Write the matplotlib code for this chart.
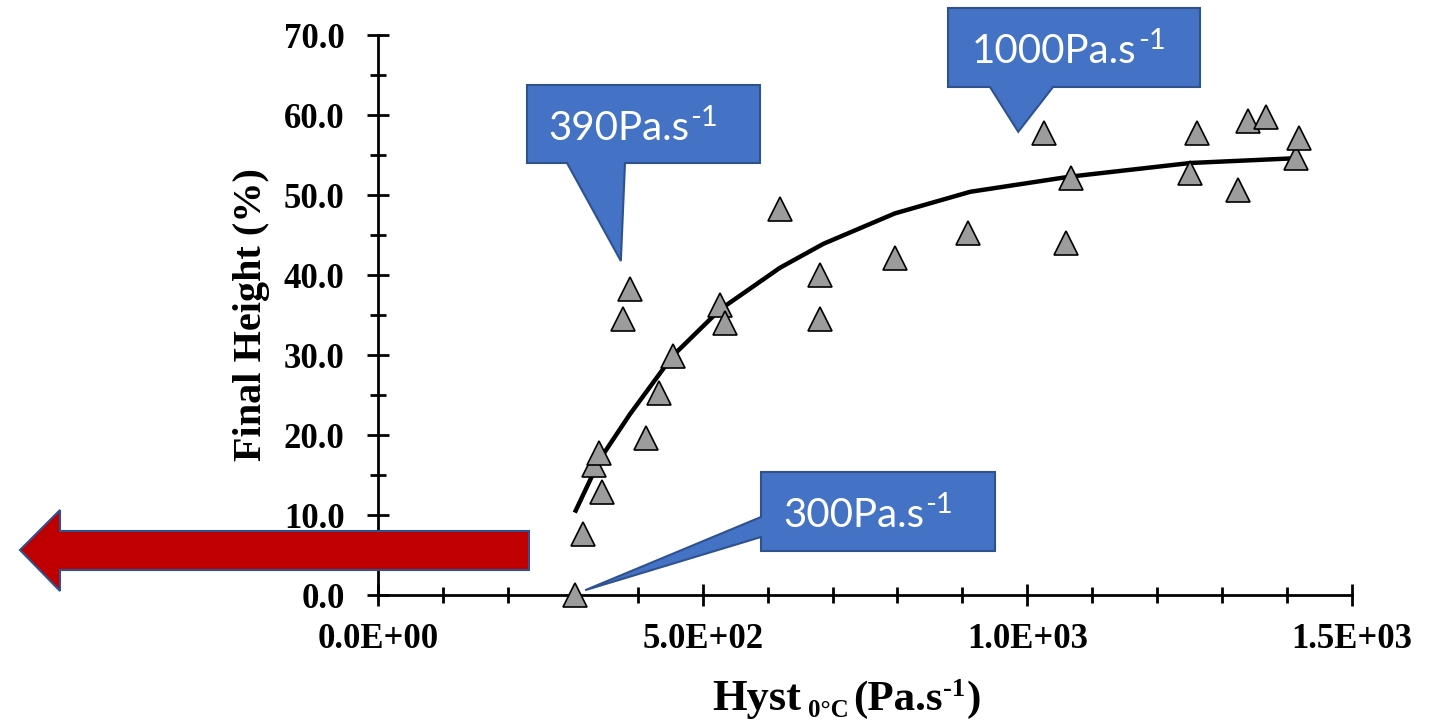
import matplotlib
matplotlib.use('Agg')
import matplotlib.pyplot as plt
from matplotlib.ticker import MultipleLocator, FuncFormatter
from matplotlib.patches import Polygon

# ---- data ----
hyst = [303, 316, 333, 341, 345, 378, 388, 412, 433, 454, 527, 535, 619, 680, 680,
        796, 909, 1025, 1059, 1067, 1251, 1261, 1325, 1340, 1367, 1414, 1419]
height = [0, 7.6, 16.2, 17.7, 12.9, 34.5, 38.3, 19.6, 25.2, 29.9, 36.2, 34.0, 48.3, 40.0, 34.5,
          42.1, 45.3, 57.7, 44.0, 52.1, 52.7, 57.7, 50.6, 59.2, 59.8, 54.6, 57.1]
fit_x = [303, 342, 388, 454, 527, 619, 686, 796, 912, 1066, 1251, 1414]
fit_y = [10.3, 17.0, 22.6, 29.9, 35.7, 40.9, 43.9, 47.7, 50.4, 52.3, 54.0, 54.6]

callout_texts = ['300Pa.s', '390Pa.s', '1000Pa.s']
callout_tips = [(319, 0.6), (374, 41.75), (986, 57.9)]

W, H = 1442, 724
fig = plt.figure(figsize=(W / 100, H / 100), dpi=100)
ax = fig.add_axes([378 / W, 1 - 595 / H, (1352 - 378) / W, (595 - 35) / H])

ax.plot(fit_x, fit_y, color='black', lw=3.2, zorder=2, solid_capstyle='butt')
ax.plot(hyst, height, linestyle='none', marker='^', ms=17, mfc='#9c9c9c',
        mec='black', mew=1.2, zorder=3, clip_on=False)

ax.set_xlim(0, 1500)
ax.set_ylim(0, 70)
for s in ['top', 'right']:
    ax.spines[s].set_visible(False)
for s in ['left', 'bottom']:
    ax.spines[s].set_linewidth(2.0)

ax.xaxis.set_major_locator(MultipleLocator(500))
ax.xaxis.set_minor_locator(MultipleLocator(100))
ax.yaxis.set_major_locator(MultipleLocator(10))
ax.yaxis.set_minor_locator(MultipleLocator(5))
ax.xaxis.set_major_formatter(FuncFormatter(lambda v, p: f'{v:.1E}'))
ax.yaxis.set_major_formatter(FuncFormatter(lambda v, p: f'{v:.1f}'))
ax.tick_params(which='major', direction='inout', length=16, width=2.0)
ax.tick_params(which='minor', direction='inout', length=12, width=2.0)
ax.tick_params(axis='x', which='major', pad=12)
ax.tick_params(axis='y', which='major', pad=16)
for lab in ax.get_xticklabels() + ax.get_yticklabels():
    lab.set_fontfamily('Liberation Serif')
    lab.set_fontweight('bold')
    lab.set_fontsize(25)

ax.set_ylabel('Final Height (%)', fontfamily='Liberation Serif', fontweight='bold',
              fontsize=29, labelpad=10)

# ---- overlay for labels, callouts and arrow, in pixel space ----
ov = fig.add_axes([0, 0, 1, 1], zorder=10)
ov.set_xlim(0, W)
ov.set_ylim(H, 0)
ov.axis('off')
ov.patch.set_alpha(0)
renderer = fig.canvas.get_renderer()


def chain(x, y, pieces, **kw):
    for s, size, dy, gap in pieces:
        x += gap
        t = ov.text(x, y - dy, s, fontsize=size, ha='left', va='baseline', **kw)
        x += t.get_window_extent(renderer=renderer).width
    return x


# x-axis label: Hyst 0°C (Pa.s-1)
serif = dict(fontfamily='Liberation Serif', fontweight='bold', color='black')
chain(712, 710, [('Hyst', 32, 0, 0), ('0°C', 18, -7, 7), ('(Pa.s', 31, 0, 4),
                 ('-1', 19, 14, 1), (')', 31, 0, 1)], **serif)


def tip_px(pt):
    x, y = ax.transData.transform(pt)
    return x, H - y


blue = '#4472C4'
edge = '#2F528F'

# 300 callout (pointer from left edge)
tx, ty = tip_px(callout_tips[0])
poly = [(761, 472), (995, 472), (995, 551), (761, 551), (761, 537), (tx, ty), (761, 517)]
ov.add_patch(Polygon(poly, closed=True, fc=blue, ec=edge, lw=1.5))
# 390 callout
tx, ty = tip_px(callout_tips[1])
poly = [(527, 85), (760, 85), (760, 163), (625, 163), (tx, ty), (567, 163), (527, 163)]
ov.add_patch(Polygon(poly, closed=True, fc=blue, ec=edge, lw=1.5))
# 1000 callout
tx, ty = tip_px(callout_tips[2])
poly = [(948, 8), (1200, 8), (1200, 87), (1053, 87), (tx, ty), (990, 87), (948, 87)]
ov.add_patch(Polygon(poly, closed=True, fc=blue, ec=edge, lw=1.5))

sans = dict(fontfamily='Lato', color='white')
text_pos = [(783, 527), (548, 140), (972, 63)]
for t, (x, y) in zip(callout_texts, text_pos):
    chain(x, y, [(t, 29, 0, 0), ('-1', 21, 14, 1)], **sans)

# red arrow
arrow = [(20, 550), (60, 510), (60, 531), (529, 531), (529, 570), (60, 570), (60, 591)]
ov.add_patch(Polygon(arrow, closed=True, fc='#C00000', ec=edge, lw=1.5))

fig.savefig('out.png', dpi=100)
